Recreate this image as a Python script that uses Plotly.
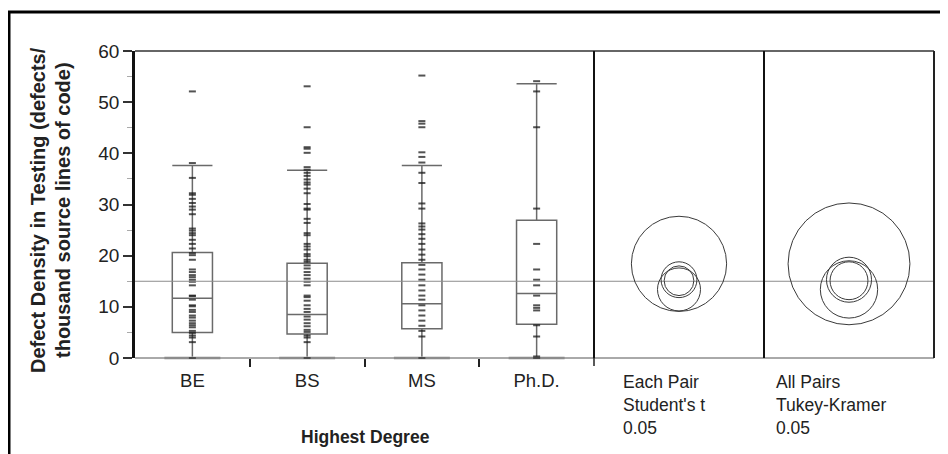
import plotly.graph_objects as go

# ---------------- data ----------------
categories = ["BE", "BS", "MS", "Ph.D."]

be_points = [52.1, 38.1, 35.2, 32.2, 31.9, 31.1, 30.3, 29.6, 29.0, 28.1, 25.3, 24.9,
             24.4, 24.0, 23.1, 22.3, 21.4, 20.5, 20.1, 19.2, 17.3, 16.8, 16.2, 15.8,
             15.3, 14.9, 14.2, 12.2, 12.1, 11.4, 10.3, 10.1, 9.4, 9.0, 8.3, 7.9, 7.3,
             6.8, 6.4, 6.0, 5.3, 4.9, 4.4, 4.0, 3.1, 0.0]
bs_points = [53.1, 45.1, 41.2, 40.9, 40.1, 37.3, 36.8, 36.2, 35.6, 34.9, 34.3, 33.9,
             33.1, 32.2, 30.1, 29.2, 29.0, 27.2, 26.4, 24.4, 24.0, 22.3, 21.8, 21.2,
             20.3, 19.9, 19.2, 18.8, 18.1, 17.5, 16.8, 16.2, 15.5, 14.9, 14.2, 12.2,
             11.9, 11.2, 10.3, 9.6, 9.0, 8.1, 7.5, 6.8, 6.2, 5.5, 5.1, 4.4, 4.0, 3.1, 0.0]
ms_points = [55.2, 46.3, 45.8, 45.1, 40.2, 39.3, 38.2, 36.2, 34.2, 30.2, 29.2, 26.3,
             25.7, 25.1, 24.2, 23.3, 22.3, 21.2, 20.2, 19.2, 18.2, 17.3, 16.3, 15.3,
             14.2, 13.2, 12.2, 11.4, 10.3, 9.3, 8.3, 7.3, 6.3, 5.3, 4.2, 0.0]
phd_points = [54.1, 52.1, 45.1, 29.2, 22.3, 17.3, 15.3, 14.2, 12.2, 10.3, 9.8, 9.3,
              6.4, 4.2, 0.3, 0.0]

box_q1 = [5.0, 4.7, 5.7, 6.6]
box_median = [11.7, 8.5, 10.6, 12.6]
box_q3 = [20.6, 18.5, 18.6, 26.9]
box_lower = [0.0, 0.0, 0.0, 0.0]
box_upper = [37.6, 36.7, 37.6, 53.6]

grand_mean = 15.0

circle_centers = [15.3, 13.4, 15.1, 18.4]      # BE, BS, MS, Ph.D.
student_radii = [3.5, 4.2, 2.9, 9.3]
tukey_radii = [4.4, 5.6, 3.7, 11.9]

y_ticks = [0, 10, 20, 30, 40, 50, 60]
y_minor = [5, 15, 25, 35, 45, 55]

student_label = ["Each Pair", "Student's t", "0.05"]
tukey_label = ["All Pairs", "Tukey-Kramer", "0.05"]
x_title = "Highest Degree"
y_title_lines = ["Defect Density in Testing (defects/", "thousand source lines of code)"]

# ---------------- layout geometry (window pixels) ----------------
OFF = 8                      # page body margin
W, H = 948 - OFF, 454 - OFF  # figure size
L, R, T, B = 135, 934, 51, 358
div1, div2 = 594, 764


def px(xp):
    return (xp - L) / (R - L)


def py(yp):
    return (B - yp) / (B - T)


FONT = "Liberation Sans, Arial, sans-serif"

fig = go.Figure()

groups = [be_points, bs_points, ms_points, phd_points]

# light grey lower whisker caps
fig.add_trace(go.Scatter(
    x=[0, 1, 2, 3], y=box_lower, mode="markers",
    marker=dict(symbol="line-ew", size=40, line=dict(width=3, color="#c4c4c4")),
    cliponaxis=False, showlegend=False, hoverinfo="skip", xaxis="x", yaxis="y",
))

fig.add_trace(go.Box(
    x=[0, 1, 2, 3], q1=box_q1, median=box_median, q3=box_q3,
    lowerfence=box_lower, upperfence=box_upper,
    width=0.35, whiskerwidth=1, boxpoints=False,
    line=dict(color="#6a6a6a", width=1.5), fillcolor="rgba(0,0,0,0)",
    showlegend=False, hoverinfo="skip", xaxis="x", yaxis="y",
))

for i, pts in enumerate(groups):
    fig.add_trace(go.Scatter(
        x=[i] * len(pts), y=pts, mode="markers",
        marker=dict(symbol="line-ew", size=5,
                    line=dict(width=2, color="rgba(25,25,25,0.75)")),
        cliponaxis=False, showlegend=False, hoverinfo="skip",
        xaxis="x", yaxis="y",
    ))

shapes = []
shapes.append(dict(type="line", xref="paper", yref="y", x0=0, x1=1,
                   y0=grand_mean, y1=grand_mean,
                   line=dict(color="#8c8c8c", width=1)))
for xr, radii in (("x2", student_radii), ("x3", tukey_radii)):
    for c, r in zip(circle_centers, radii):
        shapes.append(dict(type="circle", xref=xr, yref="y",
                           x0=-r, x1=r, y0=c - r, y1=c + r,
                           line=dict(color="#3a3a3a", width=1)))
shapes.append(dict(type="line", xref="paper", yref="paper", x0=0, x1=1, y0=1, y1=1,
                   line=dict(color="#333333", width=1.5)))
shapes.append(dict(type="line", xref="paper", yref="paper", x0=0, x1=1, y0=0, y1=0,
                   line=dict(color="#555555", width=1)))
shapes.append(dict(type="line", xref="paper", yref="paper", x0=1, x1=1, y0=0, y1=1,
                   line=dict(color="#222222", width=2)))
for d in (div1, div2):
    shapes.append(dict(type="line", xref="paper", yref="paper", x0=px(d), x1=px(d),
                       y0=0, y1=1, line=dict(color="#111111", width=2)))
shapes.append(dict(type="line", xref="paper", yref="paper", x0=px(div1), x1=px(div1),
                   y0=0, y1=py(B + 8), line=dict(color="#222222", width=1.5)))
shapes.append(dict(type="rect", xref="paper", yref="paper",
                   x0=px(OFF + 1), x1=px(946), y0=py(470), y1=py(12),
                   line=dict(color="#000000", width=3)))

annotations = []
annotations.append(dict(text="<br>".join(student_label), xref="paper", yref="paper",
                        x=px(621), y=py(370), xanchor="left", yanchor="top",
                        align="left", showarrow=False,
                        font=dict(family=FONT, size=17.5, color="#222")))
annotations.append(dict(text="<br>".join(tukey_label), xref="paper", yref="paper",
                        x=px(774), y=py(370), xanchor="left", yanchor="top",
                        align="left", showarrow=False,
                        font=dict(family=FONT, size=17.5, color="#222")))
annotations.append(dict(text="<b>%s</b>" % x_title, xref="paper", yref="paper",
                        x=px(365), y=py(437), xanchor="center", yanchor="middle",
                        showarrow=False, font=dict(family=FONT, size=17.5, color="#222")))
for xpos, line_text in zip((38, 63), y_title_lines):
    annotations.append(dict(text="<b>%s</b>" % line_text, xref="paper", yref="paper",
                            x=px(xpos), y=py(210), xanchor="center", yanchor="middle",
                            textangle=-90, showarrow=False,
                            font=dict(family=FONT, size=20, color="#222")))

fig.update_layout(
    width=W, height=H,
    margin=dict(l=L - OFF, r=948 - R, t=T - OFF, b=454 - B),
    paper_bgcolor="white", plot_bgcolor="white",
    showlegend=False,
    font=dict(family=FONT, color="#222"),
    xaxis=dict(domain=[0, px(div1)], range=[-0.5, 3.5],
               tickvals=[0, 1, 2, 3], ticktext=categories, ticks="",
               ticklabelstandoff=9,
               tickfont=dict(family=FONT, size=18.5, color="#222"),
               minor=dict(tickvals=[0.5, 1.5, 2.5], ticks="outside", ticklen=8,
                          tickwidth=1.5, tickcolor="#222"),
               showgrid=False, zeroline=False, showline=False, fixedrange=True),
    xaxis2=dict(domain=[px(div1), px(div2)], range=[-16.6, 16.6], anchor="y",
                showticklabels=False, ticks="", showgrid=False, zeroline=False,
                showline=False),
    xaxis3=dict(domain=[px(div2), 1], range=[-16.6, 16.6], anchor="y",
                showticklabels=False, ticks="", showgrid=False, zeroline=False,
                showline=False),
    yaxis=dict(range=[0, 60], tickvals=y_ticks, ticks="outside", ticklen=9,
               tickwidth=1.5, tickcolor="#333",
               minor=dict(tickvals=y_minor, ticks="outside", ticklen=5,
                          tickwidth=1, tickcolor="#aaaaaa"),
               tickfont=dict(family=FONT, size=19, color="#222"),
               showline=True, linecolor="#111", linewidth=2.5,
               showgrid=False, zeroline=False),
    shapes=shapes,
    annotations=annotations,
)

fig.write_html("out.html")
